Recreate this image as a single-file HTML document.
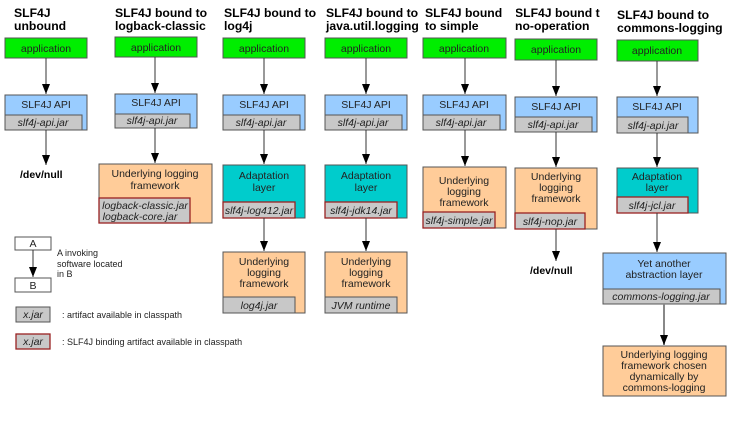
<!DOCTYPE html>
<html><head><meta charset="utf-8"><style>
html,body{margin:0;padding:0;background:#fff;}
svg{display:block;font-family:"Liberation Sans",Arial,sans-serif;}
.t{font-weight:bold;font-size:12.2px;fill:#000;}
.b{font-size:10.5px;fill:#222;text-anchor:middle;}
.j{font-size:10.5px;fill:#222;font-style:italic;text-anchor:middle;}
.l{font-size:9px;fill:#222;}
.ln{stroke:#333;stroke-width:1;}
</style></head><body>
<svg width="729" height="445" viewBox="0 0 729 445">
<defs><marker id="a" markerWidth="10" markerHeight="8" refX="10" refY="4" orient="auto" markerUnits="userSpaceOnUse"><path d="M0,0 L10,4 L0,8z" fill="#000"/></marker></defs>
<g id="titles">
<text class="t" x="14" y="17">SLF4J</text><text class="t" x="14" y="30">unbound</text>
<text class="t" x="115" y="17">SLF4J bound to</text><text class="t" x="115" y="30">logback-classic</text>
<text class="t" x="224" y="17">SLF4J bound to</text><text class="t" x="224" y="30">log4j</text>
<text class="t" x="326" y="17">SLF4J bound to</text><text class="t" x="326" y="30">java.util.logging</text>
<text class="t" x="425" y="17">SLF4J bound</text><text class="t" x="425" y="30">to simple</text>
<text class="t" x="515" y="17">SLF4J bound t</text><text class="t" x="515" y="30">no-operation</text>
<text class="t" x="617" y="19">SLF4J bound to</text><text class="t" x="617" y="32">commons-logging</text>
</g>
<rect x="510" y="4" width="6" height="15" fill="#fff"/>
<!-- col1 -->
<rect x="5" y="38" width="82" height="20" fill="#00ee00" stroke="#555"/><text class="b" x="46" y="52">application</text>
<line class="ln" x1="46" y1="58" x2="46" y2="94" marker-end="url(#a)"/>
<rect x="5" y="95" width="82" height="35" fill="#99ccff" stroke="#555"/><text class="b" x="46" y="108">SLF4J API</text>
<rect x="5" y="115" width="77" height="15" fill="#c8c8c8" stroke="#555"/><text class="j" x="43" y="126">slf4j-api.jar</text>
<line class="ln" x1="46" y1="130" x2="46" y2="165" marker-end="url(#a)"/>
<text x="20" y="178" style="font-size:10.5px;font-weight:bold">/dev/null</text>
<!-- col2 -->
<rect x="115" y="37" width="82" height="20" fill="#00ee00" stroke="#555"/><text class="b" x="156" y="51">application</text>
<line class="ln" x1="155" y1="57" x2="155" y2="93" marker-end="url(#a)"/>
<rect x="115" y="94" width="82" height="34" fill="#99ccff" stroke="#555"/><text class="b" x="156" y="106">SLF4J API</text>
<rect x="115" y="114" width="75" height="14" fill="#c8c8c8" stroke="#555"/><text class="j" x="152" y="124">slf4j-api.jar</text>
<line class="ln" x1="155" y1="128" x2="155" y2="163" marker-end="url(#a)"/>
<rect x="99" y="164" width="113" height="59" fill="#ffcc99" stroke="#555"/><text class="b" x="155" y="177">Underlying logging</text><text class="b" x="155" y="189">framework</text>
<rect x="99" y="198" width="91" height="25" fill="#c8c8c8" stroke="#992222" stroke-width="1.3"/><text class="j" x="145" y="209">logback-classic.jar</text><text class="j" x="140" y="220">logback-core.jar</text>
<!-- col3 -->
<rect x="223" y="38" width="82" height="20" fill="#00ee00" stroke="#555"/><text class="b" x="264" y="52">application</text>
<line class="ln" x1="264" y1="58" x2="264" y2="94" marker-end="url(#a)"/>
<rect x="223" y="95" width="82" height="35" fill="#99ccff" stroke="#555"/><text class="b" x="264" y="108">SLF4J API</text>
<rect x="223" y="115" width="77" height="15" fill="#c8c8c8" stroke="#555"/><text class="j" x="261" y="126">slf4j-api.jar</text>
<line class="ln" x1="264" y1="130" x2="264" y2="164" marker-end="url(#a)"/>
<rect x="223" y="165" width="82" height="53" fill="#00cccc" stroke="#555"/><text class="b" x="264" y="179">Adaptation</text><text class="b" x="264" y="191">layer</text>
<rect x="223" y="202" width="72" height="16" fill="#c8c8c8" stroke="#992222" stroke-width="1.3"/><text class="j" x="259" y="214">slf4j-log412.jar</text>
<line class="ln" x1="264" y1="218" x2="264" y2="251" marker-end="url(#a)"/>
<rect x="223" y="252" width="82" height="61" fill="#ffcc99" stroke="#555"/><text class="b" x="264" y="265">Underlying</text><text class="b" x="264" y="276">logging</text><text class="b" x="264" y="287">framework</text>
<rect x="223" y="297" width="72" height="16" fill="#c8c8c8" stroke="#555"/><text class="j" x="259" y="309">log4j.jar</text>
<!-- col4 -->
<rect x="325" y="38" width="82" height="20" fill="#00ee00" stroke="#555"/><text class="b" x="366" y="52">application</text>
<line class="ln" x1="366" y1="58" x2="366" y2="94" marker-end="url(#a)"/>
<rect x="325" y="95" width="82" height="35" fill="#99ccff" stroke="#555"/><text class="b" x="366" y="108">SLF4J API</text>
<rect x="325" y="115" width="77" height="15" fill="#c8c8c8" stroke="#555"/><text class="j" x="363" y="126">slf4j-api.jar</text>
<line class="ln" x1="366" y1="130" x2="366" y2="164" marker-end="url(#a)"/>
<rect x="325" y="165" width="82" height="53" fill="#00cccc" stroke="#555"/><text class="b" x="366" y="179">Adaptation</text><text class="b" x="366" y="191">layer</text>
<rect x="325" y="202" width="72" height="16" fill="#c8c8c8" stroke="#992222" stroke-width="1.3"/><text class="j" x="361" y="214">slf4j-jdk14.jar</text>
<line class="ln" x1="366" y1="218" x2="366" y2="251" marker-end="url(#a)"/>
<rect x="325" y="252" width="82" height="61" fill="#ffcc99" stroke="#555"/><text class="b" x="366" y="265">Underlying</text><text class="b" x="366" y="276">logging</text><text class="b" x="366" y="287">framework</text>
<rect x="325" y="297" width="72" height="16" fill="#c8c8c8" stroke="#555"/><text class="j" x="361" y="309">JVM runtime</text>
<!-- col5 -->
<rect x="423" y="38" width="83" height="20" fill="#00ee00" stroke="#555"/><text class="b" x="464" y="52">application</text>
<line class="ln" x1="465" y1="58" x2="465" y2="94" marker-end="url(#a)"/>
<rect x="423" y="95" width="83" height="35" fill="#99ccff" stroke="#555"/><text class="b" x="464" y="108">SLF4J API</text>
<rect x="423" y="115" width="77" height="15" fill="#c8c8c8" stroke="#555"/><text class="j" x="461" y="126">slf4j-api.jar</text>
<line class="ln" x1="465" y1="130" x2="465" y2="166" marker-end="url(#a)"/>
<rect x="423" y="167" width="83" height="61" fill="#ffcc99" stroke="#555"/><text class="b" x="464" y="184">Underlying</text><text class="b" x="464" y="195">logging</text><text class="b" x="464" y="206">framework</text>
<rect x="423" y="212" width="72" height="16" fill="#c8c8c8" stroke="#992222" stroke-width="1.3"/><text class="j" x="459" y="224">slf4j-simple.jar</text>
<!-- col6 -->
<rect x="515" y="39" width="82" height="21" fill="#00ee00" stroke="#555"/><text class="b" x="556" y="53">application</text>
<line class="ln" x1="556" y1="60" x2="556" y2="96" marker-end="url(#a)"/>
<rect x="515" y="97" width="82" height="35" fill="#99ccff" stroke="#555"/><text class="b" x="556" y="110">SLF4J API</text>
<rect x="515" y="117" width="77" height="15" fill="#c8c8c8" stroke="#555"/><text class="j" x="553" y="128">slf4j-api.jar</text>
<line class="ln" x1="556" y1="132" x2="556" y2="167" marker-end="url(#a)"/>
<rect x="515" y="168" width="82" height="61" fill="#ffcc99" stroke="#555"/><text class="b" x="556" y="180">Underlying</text><text class="b" x="556" y="191">logging</text><text class="b" x="556" y="202">framework</text>
<rect x="515" y="213" width="70" height="16" fill="#c8c8c8" stroke="#992222" stroke-width="1.3"/><text class="j" x="550" y="225">slf4j-nop.jar</text>
<line class="ln" x1="556" y1="229" x2="556" y2="261" marker-end="url(#a)"/>
<text x="530" y="274" style="font-size:10.5px;font-weight:bold">/dev/null</text>
<!-- col7 -->
<rect x="617" y="40" width="81" height="21" fill="#00ee00" stroke="#555"/><text class="b" x="657" y="54">application</text>
<line class="ln" x1="657" y1="61" x2="657" y2="96" marker-end="url(#a)"/>
<rect x="617" y="97" width="81" height="36" fill="#99ccff" stroke="#555"/><text class="b" x="657" y="110">SLF4J API</text>
<rect x="617" y="117" width="71" height="16" fill="#c8c8c8" stroke="#555"/><text class="j" x="653" y="129">slf4j-api.jar</text>
<line class="ln" x1="657" y1="133" x2="657" y2="167" marker-end="url(#a)"/>
<rect x="617" y="168" width="81" height="45" fill="#00cccc" stroke="#555"/><text class="b" x="657" y="180">Adaptation</text><text class="b" x="657" y="191">layer</text>
<rect x="617" y="197" width="71" height="16" fill="#c8c8c8" stroke="#992222" stroke-width="1.3"/><text class="j" x="652" y="209">slf4j-jcl.jar</text>
<line class="ln" x1="657" y1="213" x2="657" y2="252" marker-end="url(#a)"/>
<rect x="603" y="253" width="123" height="51" fill="#99ccff" stroke="#555"/><text class="b" x="664" y="267">Yet another</text><text class="b" x="664" y="278">abstraction layer</text>
<rect x="603" y="289" width="117" height="15" fill="#c8c8c8" stroke="#555"/><text class="j" x="661" y="300">commons-logging.jar</text>
<line x1="664" y1="304" x2="664" y2="345" stroke="#888" stroke-width="2" marker-end="url(#a)"/>
<rect x="603" y="346" width="123" height="50" fill="#ffcc99" stroke="#555"/><text class="b" x="664" y="358">Underlying logging</text><text class="b" x="664" y="369">framework chosen</text><text class="b" x="664" y="380">dynamically by</text><text class="b" x="664" y="391">commons-logging</text>
<!-- legend -->
<rect x="15" y="237" width="36" height="13" fill="#fff" stroke="#555"/><text class="b" x="33" y="247">A</text>
<line class="ln" x1="33" y1="250" x2="33" y2="277" marker-end="url(#a)"/>
<rect x="15" y="278" width="36" height="14" fill="#fff" stroke="#555"/><text class="b" x="33" y="289">B</text>
<text class="l" x="57" y="256">A invoking</text><text class="l" x="57" y="267">software located</text><text class="l" x="57" y="277">in B</text>
<rect x="16" y="307" width="34" height="15" fill="#c8c8c8" stroke="#555"/><text class="j" x="33" y="318">x.jar</text>
<text class="l" x="62" y="318">: artifact available in classpath</text>
<rect x="16" y="334" width="34" height="15" fill="#c8c8c8" stroke="#992222" stroke-width="1.3"/><text class="j" x="33" y="345">x.jar</text>
<text class="l" x="62" y="345">: SLF4J binding artifact available in classpath</text>
</svg>
</body></html>
